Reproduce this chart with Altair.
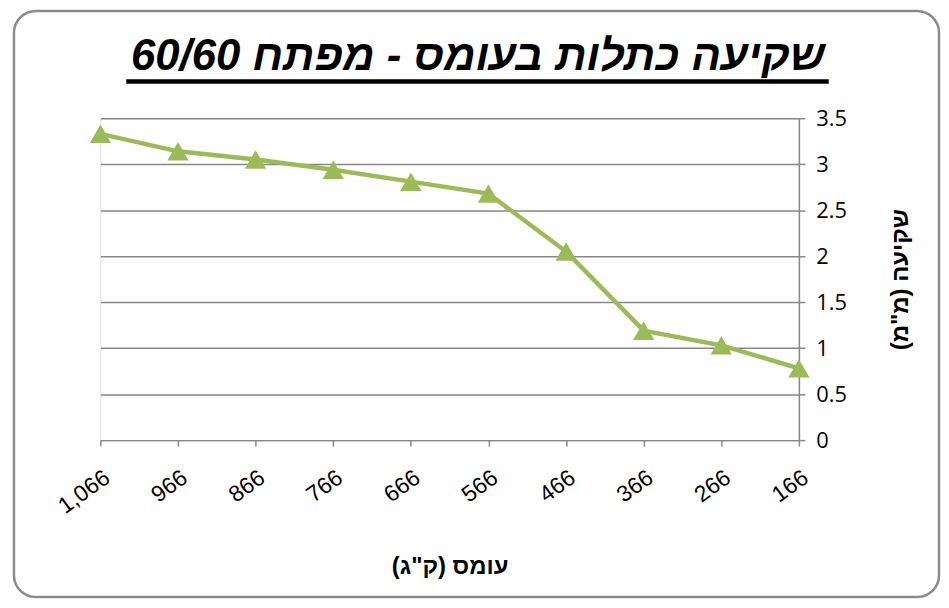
import altair as alt
import pandas as pd

loads = ["1,066", "966", "866", "766", "666", "566", "466", "366", "266", "166"]
settle = [3.33, 3.14, 3.05, 2.94, 2.81, 2.68, 2.05, 1.19, 1.03, 0.78]

title_text = "שקיעה כתלות בעומס - מפתח 60/60"
x_title = 'עומס (ק"ג)'
y_title = 'שקיעה (מ"מ)'

df = pd.DataFrame({"load": loads, "settle": settle})

W, H = 703, 324
GREEN = "#9BBB59"
GRAY = "#878787"

x_enc = alt.X(
    "load:O", sort=loads,
    scale=alt.Scale(type="point", padding=0),
    axis=alt.Axis(
        title=x_title, labelAngle=-36, labelAlign="right", labelBaseline="top",
        labelFont="Liberation Sans", labelFontSize=23, labelColor="#000",
        labelPadding=20, tickSize=6, tickColor=GRAY, domainColor=GRAY,
        domainWidth=1.5, tickWidth=1.5, grid=False,
        titleFont="Liberation Sans", titleFontSize=24, titleFontWeight="bold",
        titleColor="#000", titleX=W / 2, titleY=134, titleBaseline="alphabetic",
        titleAlign="center",
    ),
)
y_enc = alt.Y(
    "settle:Q",
    scale=alt.Scale(domain=[0, 3.5], nice=False, zero=True),
    axis=alt.Axis(
        orient="right", values=[0, 0.5, 1, 1.5, 2, 2.5, 3, 3.5], format="~g",
        title=y_title, labelFont="Open Sans", labelFontSize=22, labelColor="#000",
        labelPadding=11, tickSize=6, tickColor=GRAY, tickWidth=1.5,
        domainColor=GRAY, domainWidth=1.5,
        grid=True, gridColor=GRAY, gridWidth=1.5,
        titleFont="Liberation Sans", titleFontSize=24, titleFontWeight="bold",
        titleColor="#000", titleAngle=-90, titleX=102, titleY=H / 2,
        titleBaseline="middle", titleAlign="center",
    ),
)

base = alt.Chart(df)
line = base.mark_line(color=GREEN, strokeWidth=4.5).encode(x=x_enc, y=y_enc)
pts = base.mark_point(shape="triangle-up", filled=True, color=GREEN, size=460, opacity=1).encode(
    x=alt.X("load:O", sort=loads), y="settle:Q"
)

frame = alt.Chart(pd.DataFrame({"a": [0]})).mark_rect(
    fillOpacity=0, stroke="#8a8a8a", strokeWidth=2.5, cornerRadius=22
).encode(x=alt.value(-87), x2=alt.value(844), y=alt.value(-108), y2=alt.value(482))

title = alt.Chart(pd.DataFrame({"t": [title_text]})).mark_text(
    font="Liberation Sans", fontSize=44, fontWeight="bold", fontStyle="italic",
    color="#000", align="center", baseline="alphabetic"
).encode(text="t:N", x=alt.value(380), y=alt.value(-49))

underline = alt.Chart(pd.DataFrame({"a": [0]})).mark_rule(color="#000", strokeWidth=4.5).encode(
    x=alt.value(26), x2=alt.value(733), y=alt.value(-37)
)

chart = alt.layer(frame, line, pts, title, underline).properties(
    width=W, height=H,
    autosize=alt.AutoSizeParams(type="none"),
    padding={"left": 93, "top": 109, "right": 143, "bottom": 159},
).configure_view(stroke=None).configure(background="white")

chart.save("out.html", embed_options={"renderer": "svg", "actions": False})
